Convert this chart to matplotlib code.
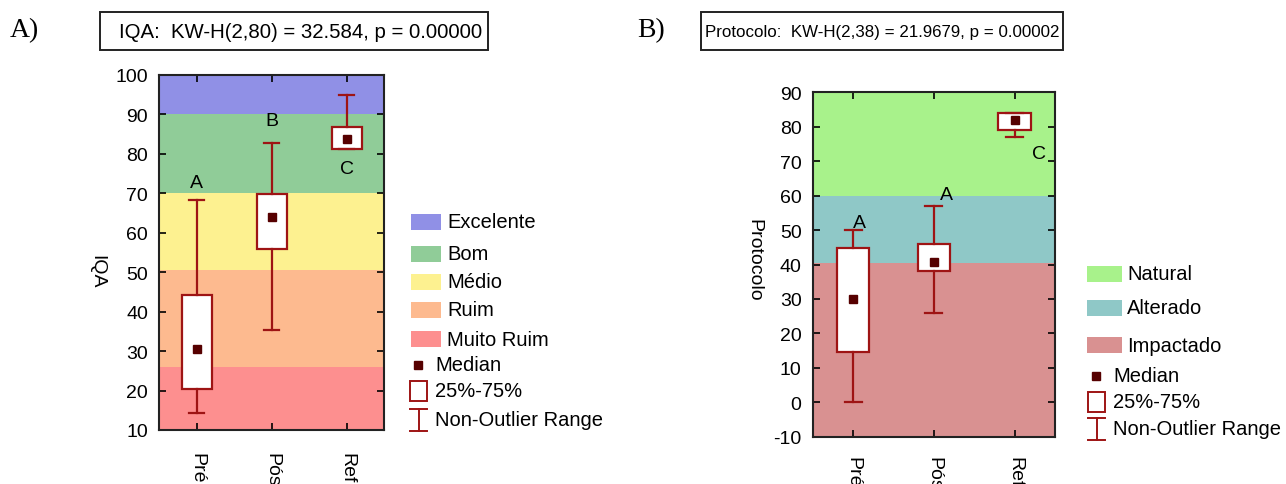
import matplotlib
matplotlib.use("Agg")
from matplotlib import pyplot as plt
from matplotlib.patches import Rectangle
from matplotlib.lines import Line2D

plt.rcParams['font.family'] = ['Liberation Sans', 'DejaVu Sans']
plt.rcParams['axes.unicode_minus'] = False

groups = ['Pré', 'Pós', 'Ref']

# A) IQA
iqa_lo = [14.3, 35.4, 81.2]
iqa_q1 = [20.4, 55.8, 81.2]
iqa_med = [30.6, 64.0, 83.9]
iqa_q3 = [44.3, 69.9, 86.8]
iqa_hi = [68.4, 82.8, 94.9]
iqa_letters = ['A', 'B', 'C']
iqa_letter_y = [72.8, 88.4, 76.4]
iqa_bands = [(90, 100), (70, 90), (50.6, 70), (26, 50.6), (10, 26)]
iqa_band_names = ['Excelente', 'Bom', 'Médio', 'Ruim', 'Muito Ruim']
iqa_band_colors = ['#9090e6', '#90cc98', '#fdf190', '#fdba8f', '#fd8f8f']

# B) Protocolo
pro_lo = [0.0, 26.0, 76.9]
pro_q1 = [14.5, 38.1, 79.0]
pro_med = [30.1, 40.7, 82.0]
pro_q3 = [44.9, 46.0, 84.0]
pro_hi = [50.0, 57.0, 84.0]
pro_letters = ['A', 'A', 'C']
pro_letter_y = [52.3, 60.3, 72.1]
pro_letter_dx = [0.08, 0.15, 0.3]
pro_bands = [(60, 90), (40.5, 60), (-10, 40.5)]
pro_band_names = ['Natural', 'Alterado', 'Impactado']
pro_band_colors = ['#a8f28b', '#8fc8c7', '#d99191']

BOX_EDGE = '#9e1414'
MED_COL = '#560000'
FS = 14
LEG_FS = 14.5
W = 1286.0
H = 485.0


def draw_panel(ax, lo, q1, med, q3, hi, bands, band_colors, ylim, yticks, xpad):
    for (b0, b1), c in zip(bands, band_colors):
        ax.axhspan(b0, b1, color=c, lw=0, zorder=0)
    stats = []
    for i in range(len(groups)):
        stats.append(dict(med=med[i], q1=q1[i], q3=q3[i], whislo=lo[i], whishi=hi[i]))
    ax.bxp(stats, positions=[1, 2, 3], widths=0.4, patch_artist=True,
           showfliers=False, showcaps=True,
           boxprops=dict(facecolor='white', edgecolor=BOX_EDGE, linewidth=1.6),
           whiskerprops=dict(color=BOX_EDGE, linewidth=1.6),
           capprops=dict(color=BOX_EDGE, linewidth=1.6),
           medianprops=dict(linewidth=0), capwidths=0.21, zorder=3)
    ax.plot([1, 2, 3], med, 's', color=MED_COL, ms=6, zorder=4)
    ax.set_xlim(0.5, 3.5)
    ax.set_ylim(*ylim)
    ax.set_yticks(yticks)
    ax.set_xticks([1, 2, 3])
    ax.set_xticklabels(groups, rotation=-90, fontsize=FS, va='top')
    ax.tick_params(axis='both', direction='in', top=True, right=True,
                   labelsize=FS, length=5, width=1.2)
    ax.tick_params(axis='y', pad=8)
    ax.tick_params(axis='x', pad=xpad)
    for s in ax.spines.values():
        s.set_linewidth(1.5)
        s.set_color('#222222')


def draw_legend(fig, x0, ys_patch, names, colors, patch_w, text_x, ys_sym, sym_x, sym_text_x):
    for y, n, c in zip(ys_patch, names, colors):
        fig.patches.append(Rectangle((x0 / W, (H - y - 8) / H), patch_w / W, 16 / H,
                                     transform=fig.transFigure, color=c, lw=0))
        fig.text(text_x / W, (H - y) / H, n, fontsize=LEG_FS, va='center', ha='left')
    # median
    fig.lines.append(Line2D([(sym_x + 8) / W], [(H - ys_sym[0]) / H], marker='s', color=MED_COL,
                            ms=6, transform=fig.transFigure))
    fig.text(sym_text_x / W, (H - ys_sym[0]) / H, 'Median', fontsize=LEG_FS, va='center')
    # box
    fig.patches.append(Rectangle((sym_x / W, (H - ys_sym[1] - 10) / H), 17 / W, 20 / H,
                                 transform=fig.transFigure, facecolor='white',
                                 edgecolor=BOX_EDGE, lw=1.4))
    fig.text(sym_text_x / W, (H - ys_sym[1]) / H, '25%-75%', fontsize=LEG_FS, va='center')
    # whisker
    yc = ys_sym[2]
    fig.lines.append(Line2D([sym_x / W, (sym_x + 17) / W], [(H - yc + 11) / H] * 2,
                            color=BOX_EDGE, lw=1.4, transform=fig.transFigure))
    fig.lines.append(Line2D([sym_x / W, (sym_x + 17) / W], [(H - yc - 11) / H] * 2,
                            color=BOX_EDGE, lw=1.4, transform=fig.transFigure))
    fig.lines.append(Line2D([(sym_x + 8.5) / W] * 2, [(H - yc - 11) / H, (H - yc + 11) / H],
                            color=BOX_EDGE, lw=1.4, transform=fig.transFigure))
    fig.text(sym_text_x / W, (H - yc) / H, 'Non-Outlier Range', fontsize=LEG_FS, va='center')


def title_box(fig, x0, x1, tx, txt, fs):
    # framed title, box from y=13 to y=51 px
    fig.patches.append(Rectangle((x0 / W, (H - 51) / H), (x1 - x0) / W, 38 / H,
                                 transform=fig.transFigure, facecolor='white',
                                 edgecolor='#222222', lw=1.4))
    fig.text(tx / W, (H - 32) / H, txt, fontsize=fs, va='center', ha='left')


def main():
    fig = plt.figure(figsize=(12.86, 4.85), dpi=100)

    axA = fig.add_axes([159 / W, 54 / H, 225 / W, 355 / H])
    draw_panel(axA, iqa_lo, iqa_q1, iqa_med, iqa_q3, iqa_hi, iqa_bands, iqa_band_colors,
               (10, 100), range(10, 101, 10), 16)
    for i, (t, y) in enumerate(zip(iqa_letters, iqa_letter_y)):
        axA.text(i + 1, y, t, fontsize=FS, ha='center', va='center', zorder=5)
    axA.set_ylabel('IQA', fontsize=FS, rotation=-90, va='center', ha='center')
    axA.yaxis.set_label_coords(-0.276, 0.448)

    axB = fig.add_axes([812.7 / W, 47.3 / H, 242.3 / W, 344.4 / H])
    draw_panel(axB, pro_lo, pro_q1, pro_med, pro_q3, pro_hi, pro_bands, pro_band_colors,
               (-10, 90), range(-10, 91, 10), 14)
    for i, (t, y) in enumerate(zip(pro_letters, pro_letter_y)):
        axB.text(i + 1 + pro_letter_dx[i], y, t, fontsize=FS, ha='center', va='center', zorder=5)
    axB.set_ylabel('Protocolo', fontsize=FS, rotation=-90, va='center', ha='center')
    axB.yaxis.set_label_coords(-0.242, 0.516)

    title_box(fig, 100, 488, 119, 'IQA:  KW-H(2,80) = 32.584, p = 0.00000', 14.7)
    title_box(fig, 701, 1063, 705, 'Protocolo:  KW-H(2,38) = 21.9679, p = 0.00002', 12.2)
    fig.text(10 / W, (H - 31) / H, 'A)', fontsize=20, family='Liberation Serif', va='center')
    fig.text(637 / W, (H - 31) / H, 'B)', fontsize=20, family='Liberation Serif', va='center')

    draw_legend(fig, 411, [223, 255, 283, 311, 340], iqa_band_names, iqa_band_colors, 30, 447,
                [366, 392, 421], 410, 435)
    draw_legend(fig, 1087, [275, 309, 346], pro_band_names, pro_band_colors, 35, 1127,
                [377, 403, 430], 1088, 1113)

    fig.savefig('out.png', dpi=100)


if __name__ == '__main__':
    main()
